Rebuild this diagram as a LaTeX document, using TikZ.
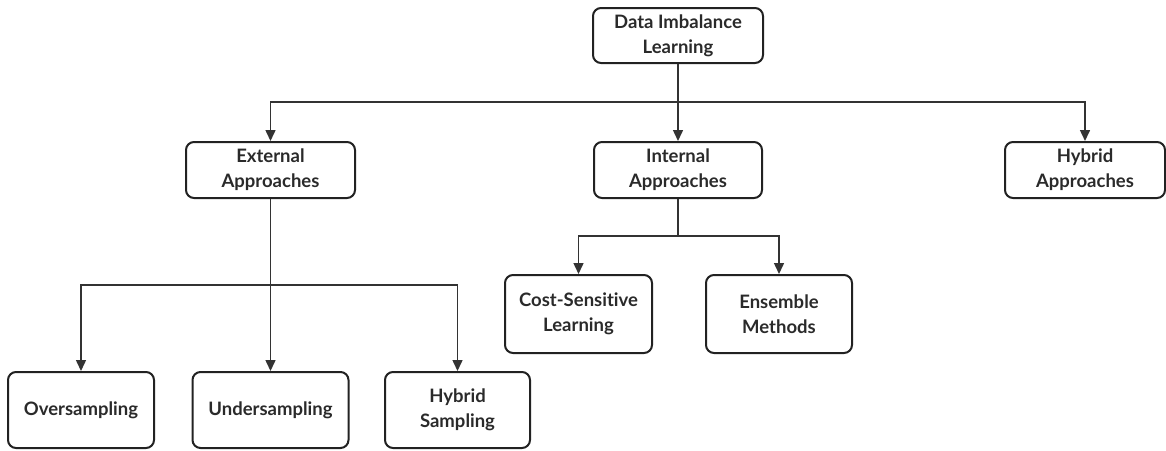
\documentclass[tikz,border=0pt]{standalone}
\usepackage{fontspec}
\setmainfont{Lato}[Ligatures={NoCommon,NoRare}]
\usetikzlibrary{arrows.meta}
\definecolor{boxline}{HTML}{222222}
\definecolor{connline}{HTML}{333333}
\definecolor{txt}{HTML}{2A2A2A}
\begin{document}
\begin{tikzpicture}[x=1pt,y=-1pt,
  box/.style={draw=boxline, line width=2pt, rounded corners=8pt, align=center,
    text=txt, font=\bfseries\fontsize{18.5}{25}\selectfont, inner sep=0pt},
  conn/.style={draw=connline, line width=1.5pt},
  arr/.style={conn, -{Triangle[length=11pt,width=10pt]}}]
\useasboundingbox (0,0) rectangle (1166,450);
\node[box, minimum width=170pt, minimum height=55pt] (root) at (678,35.5) {Data Imbalance\\Learning};
\node[box, minimum width=169pt, minimum height=56pt] (ext) at (270.5,170) {External\\Approaches};
\node[box, minimum width=168pt, minimum height=56pt] (int) at (678,170) {Internal\\Approaches};
\node[box, minimum width=160pt, minimum height=56pt] (hyb) at (1085,170) {Hybrid\\Approaches};
\node[box, minimum width=147pt, minimum height=78pt] (cost) at (578.5,314) {Cost-Sensitive\\Learning};
\node[box, minimum width=146pt, minimum height=78pt] (ens) at (779,314) {Ensemble\\Methods};
\node[box, minimum width=146pt, minimum height=76pt] (over) at (81,410) {Oversampling};
\node[box, minimum width=156pt, minimum height=76pt] (under) at (270.5,410) {Undersampling};
\node[box, minimum width=145pt, minimum height=76pt] (hsamp) at (457.5,410) {Hybrid\\Sampling};
\coordinate (j1) at (678,102);
\coordinate (j2) at (270.5,285);
\coordinate (j3) at (678,236);
\draw[arr] (root.south) -- (int.north);
\draw[arr] (j1) -| (ext.north);
\draw[arr] (j1) -| (hyb.north);
\draw[arr] (ext.south) -- (under.north);
\draw[arr] (j2) -| (over.north);
\draw[arr] (j2) -| (hsamp.north);
\draw[conn] (int.south) -- (j3);
\draw[arr] (j3) -| (cost.north);
\draw[arr] (j3) -| (ens.north);
\end{tikzpicture}
\end{document}
